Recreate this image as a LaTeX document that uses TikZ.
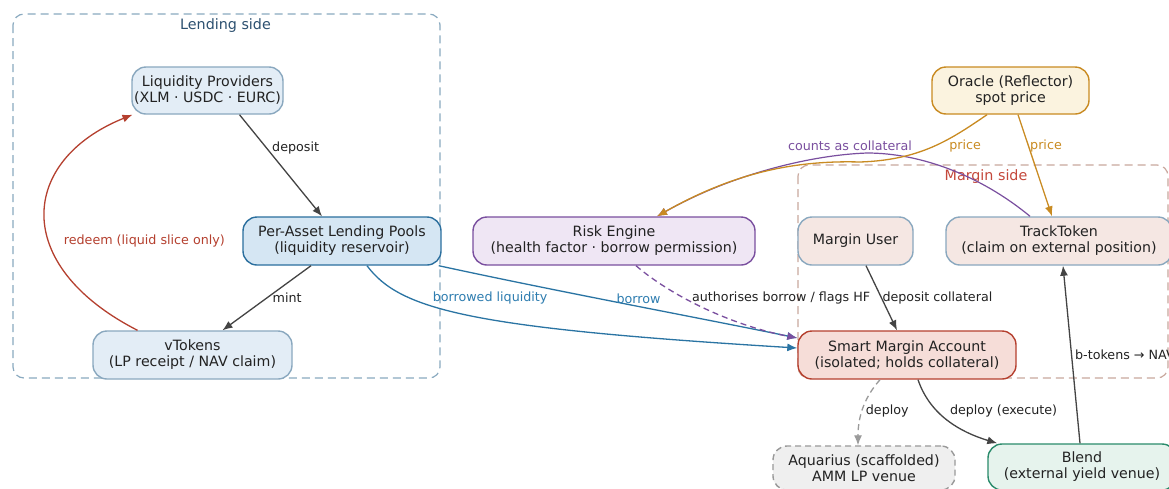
\documentclass[tikz,border=0pt]{standalone}
\usepackage{fontspec}
\setmainfont{DejaVu Sans}
\usetikzlibrary{arrows.meta,calc}
\definecolor{txt}{HTML}{222222}
\definecolor{lendborder}{HTML}{8AAAC0}
\definecolor{lendlabel}{HTML}{2C5070}
\definecolor{lpfill}{HTML}{E3EDF6}
\definecolor{lpdraw}{HTML}{8AA8BF}
\definecolor{poolfill}{HTML}{D5E6F3}
\definecolor{pooldraw}{HTML}{2B6F9E}
\definecolor{refill}{HTML}{EFE6F4}
\definecolor{redraw}{HTML}{7A4F9F}
\definecolor{orfill}{HTML}{FBF3DF}
\definecolor{ordraw}{HTML}{C98B22}
\definecolor{mufill}{HTML}{F5E7E3}
\definecolor{smafill}{HTML}{F6DDD8}
\definecolor{smadraw}{HTML}{B5402F}
\definecolor{aqfill}{HTML}{EFEFEF}
\definecolor{aqdraw}{HTML}{999999}
\definecolor{blfill}{HTML}{E6F3ED}
\definecolor{bldraw}{HTML}{2A8B6B}
\definecolor{margborder}{HTML}{C9A89E}
\definecolor{marglabel}{HTML}{C4483B}
\definecolor{edgegrey}{HTML}{444444}
\definecolor{redarrow}{HTML}{B5402F}
\definecolor{bluearrow}{HTML}{2A74A3}
\definecolor{bluelabel}{HTML}{2E7DB0}
\definecolor{purplearrow}{HTML}{7A4F9F}
\definecolor{orangearrow}{HTML}{C98B22}
\definecolor{dashgrey}{HTML}{9A9A9A}
\tikzset{
  box/.style={draw, rounded corners=14pt, line width=1.4pt, align=center, inner sep=0pt,
    font=\fontsize{14.2}{16}\selectfont, text=txt},
  cluster/.style={draw, rounded corners=11pt, line width=1.2pt, dash pattern=on 8pt off 5pt},
  clabel/.style={font=\fontsize{14.3}{16}\selectfont, inner sep=0pt},
  lbl/.style={font=\fontsize{12.7}{14}\selectfont, inner sep=1pt, text=txt},
  arr/.style={-{Latex[length=10pt,width=8pt]}, line width=1.3pt},
  dashline/.style={dash pattern=on 6pt off 4pt}
}
\begin{document}
\begin{tikzpicture}[x=1pt,y=-1pt]
\clip (0,0) rectangle (1169,488);
\fill[white] (0,0) rectangle (1169,488);
% clusters
\draw[cluster, draw=lendborder] (13,14) rectangle (440,378);
\node[clabel, text=lendlabel] (lendlab) at (225.5,26) {Lending side};
\draw[cluster, draw=margborder] (798,165) rectangle (1168,378);
\node[clabel, text=marglabel] (marglab) at (986,177) {Margin side};
% nodes
\node[box, fill=lpfill, draw=lpdraw, minimum width=151pt, minimum height=47pt] (LP) at (207.5,90.5) {Liquidity Providers\\(XLM · USDC · EURC)};
\node[box, fill=poolfill, draw=pooldraw, minimum width=198pt, minimum height=48pt] (Pools) at (342,241) {Per-Asset Lending Pools\\(liquidity reservoir)};
\node[box, fill=lpfill, draw=lpdraw, minimum width=199pt, minimum height=48pt] (vT) at (192.5,355) {vTokens\\(LP receipt / NAV claim)};
\node[box, fill=refill, draw=redraw, minimum width=282pt, minimum height=48pt] (RE) at (614,241) {Risk Engine\\(health factor · borrow permission)};
\node[box, fill=orfill, draw=ordraw, minimum width=157pt, minimum height=47pt] (OR) at (1010.5,90.5) {Oracle (Reflector)\\spot price};
\node[box, fill=mufill, draw=lpdraw, minimum width=115pt, minimum height=48pt] (MU) at (855.5,241) {Margin User};
\node[box, fill=mufill, draw=lpdraw, minimum width=226pt, minimum height=48pt] (TT) at (1059,241) {TrackToken\\(claim on external position)};
\node[box, fill=smafill, draw=smadraw, minimum width=218pt, minimum height=48pt] (SMA) at (907,355) {Smart Margin Account\\(isolated; holds collateral)};
\node[box, fill=aqfill, draw=aqdraw, dash pattern=on 6pt off 4pt, minimum width=182pt, minimum height=44pt] (AQ) at (864,468) {Aquarius (scaffolded)\\AMM LP venue};
\node[box, fill=blfill, draw=bldraw, minimum width=188pt, minimum height=46pt] (BL) at (1082,467) {Blend\\(external yield venue)};
% edges
\draw[arr, edgegrey] ([xshift=32pt]LP.south) -- ([xshift=-20pt]Pools.north)
  node[lbl, pos=0.31, anchor=west, xshift=5.5pt, yshift=-2pt] {deposit};
\draw[arr, edgegrey] ([xshift=-31pt]Pools.south) -- ([xshift=30pt]vT.north)
  node[lbl, pos=0.485, anchor=west, xshift=3pt, yshift=-1pt] {mint};
\draw[arr, redarrow] ([xshift=-55pt]vT.north) .. controls (10,265) and (20,160) .. ([xshift=-75pt]LP.south)
  node[lbl, text=redarrow, pos=0.4, anchor=west, xshift=14pt, yshift=-2pt] {redeem (liquid slice only)};
\draw[arr, bluearrow] ([xshift=25pt]Pools.south) .. controls (400,310) and (470,328) .. ([yshift=7pt]SMA.west)
  node[lbl, text=bluelabel, pos=0.45, xshift=36pt, yshift=14pt] {borrowed liquidity};
\draw[arr, bluearrow] ([xshift=-3pt]Pools.south east) .. controls (560,292) and (700,318) .. ([yshift=17pt]SMA.west)
  node[lbl, text=bluelabel, pos=0.55, xshift=-7pt, yshift=9pt] {borrow};
\draw[arr, purplearrow, dashline] ([xshift=22pt]RE.south) .. controls (670,295) and (730,325) .. ([yshift=17pt]SMA.west)
  node[lbl, pos=0.35, anchor=west, xshift=10pt, yshift=-2pt] {authorises borrow / flags HF};
\draw[arr, purplearrow, line width=1.2pt] ([xshift=-29pt]TT.north) .. controls (980,175) and (920,153) .. (867,153)
  node[lbl, text=purplearrow, pos=1, xshift=-17pt, yshift=7pt] {counts as collateral}
  .. controls (810,155) and (730,175) .. ([xshift=43pt]RE.north);
\draw[arr, orangearrow] ([xshift=-23.5pt]OR.south) .. controls (950,140) and (920,160) .. (860,162)
  node[lbl, text=orangearrow, pos=0.4, anchor=west, xshift=4pt, yshift=-4pt] {price}
  .. controls (790,160) and (730,175) .. ([xshift=43pt]RE.north);
\draw[arr, orangearrow] ([xshift=7.5pt]OR.south) -- ([xshift=-7pt]TT.north)
  node[lbl, text=orangearrow, pos=0.31, anchor=west, xshift=0pt] {price};
\draw[arr, edgegrey] ([xshift=10.5pt]MU.south) -- ([xshift=-10pt]SMA.north)
  node[lbl, pos=0.48, anchor=west, xshift=0pt, yshift=-1pt] {deposit collateral};
\draw[arr, dashgrey, dashline] ([xshift=-27pt]SMA.south) .. controls (862,400) and (858,420) .. ([xshift=-6pt]AQ.north)
  node[lbl, pos=0.5, anchor=west, xshift=2pt] {deploy};
\draw[arr, edgegrey] ([xshift=11pt]SMA.south) .. controls (930,415) and (960,432) .. ([xshift=10pt]BL.north west)
  node[lbl, pos=0.4, anchor=west, xshift=8pt, yshift=3pt] {deploy (execute)};
\draw[arr, edgegrey] ([xshift=-2pt]BL.north) -- ([xshift=4pt]TT.south)
  node[lbl, pos=0.5, anchor=west, xshift=2pt] {b-tokens → NAV};
\end{tikzpicture}
\end{document}
